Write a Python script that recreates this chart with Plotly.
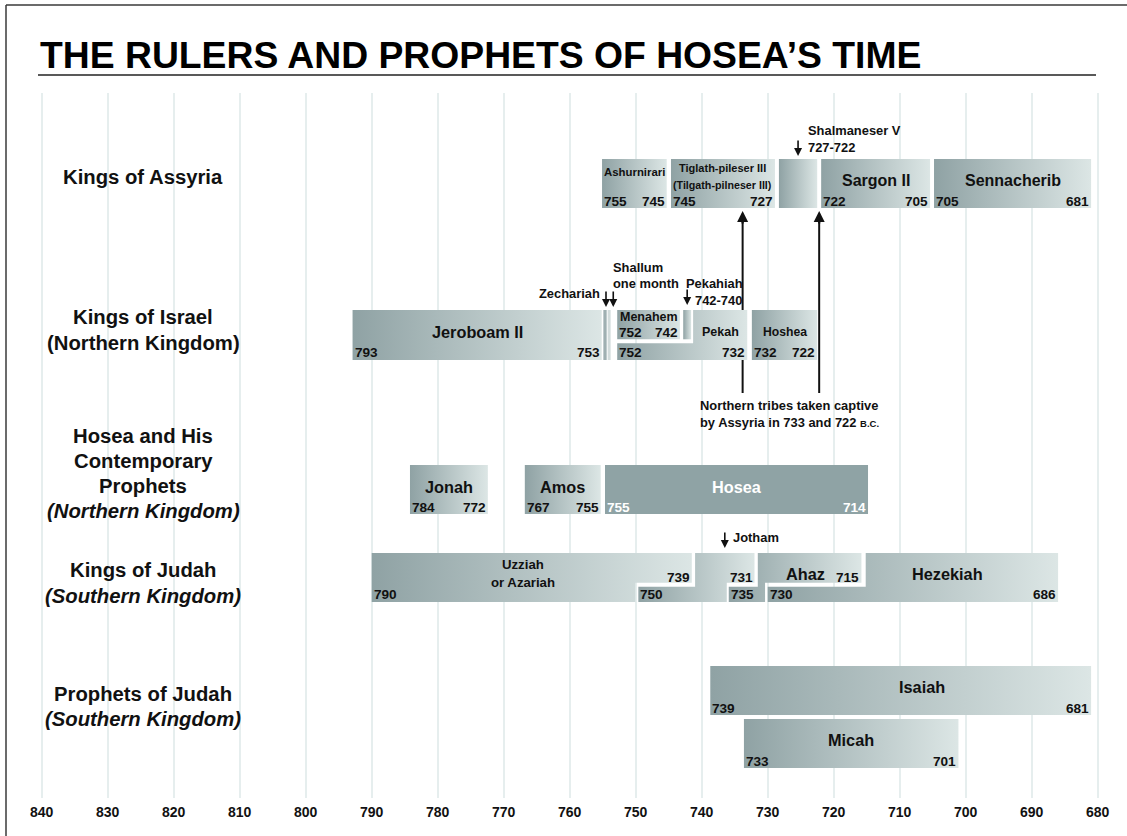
import plotly.graph_objects as go

# ---------------- data (years B.C.) ----------------
tick_years = [840, 830, 820, 810, 800, 790, 780, 770, 760, 750, 740, 730, 720, 710, 700, 690, 680]

assyria_kings = ["Ashurnirari", "Tiglath-pileser III", "Shalmaneser V", "Sargon II", "Sennacherib"]
assyria_start = [755.1, 744.65, 728.3, 721.9, 704.8]
assyria_end = [745.3, 728.9, 722.5, 705.4, 681.0]
assyria_from = ["755", "745", "", "722", "705"]
assyria_to = ["745", "727", "", "705", "681"]

israel_kings = ["Jeroboam II", "Zechariah", "Shallum", "Menahem", "Pekahiah", "Pekah", "Hoshea"]
israel_top_start = [792.9, 754.9, 754.25, 752.8, 742.8, 741.3, 732.4]
israel_top_end = [755.15, 754.4, 753.8, 743.3, 741.6, 733.1, 722.5]
israel_bottom_start = [792.9, 754.9, 754.25, None, None, 752.8, 732.4]
israel_bottom_end = [755.15, 754.4, 753.8, None, None, 733.1, 722.5]
israel_from = ["793", "", "", "752", "", "752", "732"]
israel_to = ["753", "", "", "742", "", "732", "722"]

north_prophets = ["Jonah", "Amos", "Hosea"]
north_prophet_start = [784.2, 766.8, 754.65]
north_prophet_end = [772.4, 755.3, 714.8]
north_prophet_from = ["784", "767", "755"]
north_prophet_to = ["772", "755", "714"]

judah_kings = ["Uzziah", "Jotham", "Ahaz", "Hezekiah"]
judah_top_start = [790.0, 741.0, 731.5, 715.15]
judah_top_end = [741.5, 732.0, 715.8, 686.0]
judah_bottom_start = [790.0, 749.6, 735.9, 730.0]
judah_bottom_end = [750.05, 736.2, 730.4, 686.0]
judah_from = ["790", "750", "735", "730"]
judah_to = ["739", "731", "715", "686"]

south_prophets = ["Isaiah", "Micah"]
south_prophet_start = [738.7, 733.6]
south_prophet_end = [681.0, 701.1]
south_prophet_from = ["739", "733"]
south_prophet_to = ["681", "701"]

captivity_years = [733.8, 722.2]

pointer_names = ["Shalmaneser V", "Zechariah", "Shallum", "Pekahiah", "Jotham"]
pointer_years = [725.4, 754.5, 753.4, 742.2, 736.5]
pointer_notes = ["727-722", "", "one month", "742-740", ""]

# ---------------- styling / layout ----------------
W, H = 1127, 836
PX0, PXY = 41.7, 6.6            # pixel of 840 B.C., pixels per year
X_LEFT = 840 + PX0 / PXY
X_RIGHT = X_LEFT - W / PXY
PLOT_TOP, PLOT_BOT = 93, 798

INK = "#111111"
DARK = "#8fa2a4"
LIGHT = "#dce6e5"
GRID = "#e6eeee"
BOLD = "Liberation Sans, Arial, Helvetica, sans-serif"
SMALL = BOLD
YR = 13.6

ROW_ASSYRIA = (159, 208)
ROW_ISRAEL = (310, 360, 341.3)
ROW_NPROPH = (465, 514)
ROW_JUDAH = (553, 602, 584.7)
ROW_ISAIAH = (666, 715)
ROW_MICAH = (719, 768)

fig = go.Figure()
ann = []
shapes = []


def px_x(p):
    return p / W


def py(p):
    return (PLOT_BOT - p) / (PLOT_BOT - PLOT_TOP)


def poly(ts, te, bs, be, y0, y1, ym=None, g=2.0):
    if bs is None:
        return [ts, te, te, ts, ts], [y0, y0, ym - g, ym - g, y0]
    xs, ys = [ts, te], [y0, y0]
    if abs(te - be) < 1e-9:
        xs += [be]; ys += [y1]
    elif te < be:
        xs += [te, be, be]; ys += [ym - g, ym - g, y1]
    else:
        xs += [te, be, be]; ys += [ym + g, ym + g, y1]
    xs += [bs]; ys += [y1]
    if abs(ts - bs) < 1e-9:
        xs += [ts]; ys += [y0]
    elif ts > bs:
        xs += [bs, ts, ts]; ys += [ym - g, ym - g, y0]
    else:
        xs += [bs, ts, ts]; ys += [ym + g, ym + g, y0]
    return xs, ys


def add_bar(xs, ys, solid=None):
    kw = dict(x=xs, y=ys, mode="lines", fill="toself",
              line=dict(width=0, color="rgba(0,0,0,0)"),
              hoverinfo="skip", showlegend=False)
    if solid:
        kw["fillcolor"] = solid
    else:
        kw["fillgradient"] = dict(type="horizontal",
                                  colorscale=[[0, DARK], [1, LIGHT]],
                                  start=max(xs), stop=min(xs))
    fig.add_trace(go.Scatter(**kw))


def T(x, y, s, size=YR, fam=SMALL, anchor="center", color=INK, xshift=0, xref="x"):
    ann.append(dict(x=x, y=y, xref=xref, yref="y", text=s, showarrow=False,
                    xanchor=anchor, yanchor="middle", xshift=xshift,
                    font=dict(family=fam, size=size, color=color, weight="bold")))


def years(x_from, x_to, s_from, s_to, y, color=INK):
    if s_from:
        T(x_from, y, s_from, anchor="left", xshift=0, color=color)
    if s_to:
        T(x_to, y, s_to, anchor="right", xshift=0, color=color)


def down_arrow(x, tip):
    ann.append(dict(x=x, y=tip, xref="x", yref="y", text="", showarrow=True,
                    ax=0, ay=-17, arrowhead=2, arrowsize=1, arrowwidth=1.6,
                    arrowcolor=INK, standoff=0))


# captivity lines (behind the bars)
for cy in captivity_years:
    fig.add_trace(go.Scatter(x=[cy, cy], y=[393, 218], mode="lines",
                             line=dict(color=INK, width=2), hoverinfo="skip", showlegend=False))
    ann.append(dict(x=cy, y=211, xref="x", yref="y", text="", showarrow=True,
                    ax=0, ay=14, arrowhead=2, arrowsize=1, arrowwidth=2.2,
                    arrowcolor=INK, standoff=0))

# ---- Kings of Assyria ----
y0, y1 = ROW_ASSYRIA
for i, name in enumerate(assyria_kings):
    xs, ys = poly(assyria_start[i], assyria_end[i], assyria_start[i], assyria_end[i], y0, y1)
    add_bar(xs, ys)
    years(assyria_start[i], assyria_end[i], assyria_from[i], assyria_to[i], 201)
cx = lambda i: (assyria_start[i] + assyria_end[i]) / 2
T(cx(0), 172, assyria_kings[0], size=11.4)
T(cx(1), 168, assyria_kings[1], size=11)
T(cx(1), 185, "(Tilgath-pilneser III)", size=10.7)
T(cx(3), 180, assyria_kings[3], size=16, fam=BOLD)
T(cx(4), 180, assyria_kings[4], size=16, fam=BOLD)

# ---- Kings of Israel ----
y0, y1, ym = ROW_ISRAEL
for i, name in enumerate(israel_kings):
    xs, ys = poly(israel_top_start[i], israel_top_end[i], israel_bottom_start[i],
                  israel_bottom_end[i], y0, y1, ym)
    if name == "Zechariah":
        add_bar(xs, ys, solid="#9fb0b2")
    elif name == "Shallum":
        add_bar(xs, ys, solid="#d2dcdc")
    else:
        add_bar(xs, ys)
T((israel_top_start[0] + israel_top_end[0]) / 2, 332, "Jeroboam II", size=16.3, fam=BOLD)
years(israel_bottom_start[0], israel_bottom_end[0], israel_from[0], israel_to[0], 352)
T((israel_top_start[3] + israel_top_end[3]) / 2, 317, "Menahem", size=12.5)
years(israel_top_start[3], israel_top_end[3], israel_from[3], israel_to[3], 332)
T((israel_top_start[5] + israel_top_end[5]) / 2, 332, "Pekah", size=12.5)
years(israel_bottom_start[5], israel_bottom_end[5], israel_from[5], israel_to[5], 352)
T((israel_top_start[6] + israel_top_end[6]) / 2, 332, "Hoshea", size=12.2)
years(israel_bottom_start[6], israel_bottom_end[6], israel_from[6], israel_to[6], 352)

# ---- Hosea and contemporary prophets ----
y0, y1 = ROW_NPROPH
for i, name in enumerate(north_prophets):
    xs, ys = poly(north_prophet_start[i], north_prophet_end[i],
                  north_prophet_start[i], north_prophet_end[i], y0, y1)
    col = "white" if name == "Hosea" else INK
    add_bar(xs, ys, solid="#8fa3a5" if name == "Hosea" else None)
    T((north_prophet_start[i] + north_prophet_end[i]) / 2, 487, name, size=16.3, fam=BOLD, color=col)
    years(north_prophet_start[i], north_prophet_end[i], north_prophet_from[i],
          north_prophet_to[i], 507, color=col)

# ---- Kings of Judah ----
y0, y1, ym = ROW_JUDAH
for i, name in enumerate(judah_kings):
    xs, ys = poly(judah_top_start[i], judah_top_end[i], judah_bottom_start[i],
                  judah_bottom_end[i], y0, y1, ym)
    add_bar(xs, ys)
    T(judah_bottom_start[i], 594, judah_from[i], anchor="left")
    if name == "Hezekiah":
        T(judah_bottom_end[i], 594, judah_to[i], anchor="right")
    else:
        T(judah_top_end[i], 577, judah_to[i], anchor="right")
T(767.1, 564, "Uzziah", size=13.2)
T(767.1, 582, "or Azariah", size=13.2)
T(724.3, 574, "Ahaz", size=16.3, fam=BOLD)
T(702.7, 574, "Hezekiah", size=16.3, fam=BOLD)

# ---- Prophets of Judah ----
for i, (name, row) in enumerate(zip(south_prophets, [ROW_ISAIAH, ROW_MICAH])):
    y0, y1 = row
    xs, ys = poly(south_prophet_start[i], south_prophet_end[i],
                  south_prophet_start[i], south_prophet_end[i], y0, y1)
    add_bar(xs, ys)
    cxp = 706.6 if name == "Isaiah" else (south_prophet_start[i] + south_prophet_end[i]) / 2
    T(cxp, y0 + 21, name, size=16.3, fam=BOLD)
    years(south_prophet_start[i], south_prophet_end[i], south_prophet_from[i],
          south_prophet_to[i], y1 - 6.5)

# ---- pointers ----
PT = 12.9
down_arrow(pointer_years[0], 156)
T(724.2, 130, pointer_names[0], size=PT, anchor="left")
T(724.2, 147, pointer_notes[0], size=PT, anchor="left")
down_arrow(pointer_years[1], 307)
T(755.1, 293, pointer_names[1], size=PT, anchor="right")
down_arrow(pointer_years[2], 307)
T(753.74, 267, pointer_names[2], size=PT, anchor="left")
T(753.74, 283, pointer_notes[2], size=PT, anchor="left")
down_arrow(pointer_years[3], 305)
T(742.7, 283, pointer_names[3], size=PT, anchor="left")
T(741.3, 300, pointer_notes[3], size=PT, anchor="left")
down_arrow(pointer_years[4], 548)
T(735.56, 537, pointer_names[4], size=PT, anchor="left")

# captivity note
T(740.56, 405, "Northern tribes taken captive", size=12.9, anchor="left")
T(740.56, 422, "by Assyria in 733 and 722 <span style='font-size:9.5px'>B.C.</span>",
  size=12.9, anchor="left")

# ---- row labels ----
LX = px_x(143)
row_labels = [
    (177, "Kings of Assyria", False),
    (317, "Kings of Israel", False),
    (343, "(Northern Kingdom)", False),
    (436, "Hosea and His", False),
    (461, "Contemporary", False),
    (486, "Prophets", False),
    (511, "(Northern Kingdom)", True),
    (570, "Kings of Judah", False),
    (596, "(Southern Kingdom)", True),
    (694, "Prophets of Judah", False),
    (719, "(Southern Kingdom)", True),
]
for yy, s, it in row_labels:
    T(LX, yy, f"<i>{s}</i>" if it else s, size=20.3, fam=BOLD, xref="paper")

# ---- title, frame ----
ann.append(dict(x=px_x(38), y=py(55), xref="paper", yref="paper",
                text="THE RULERS AND PROPHETS OF HOSEA\u2019S TIME", showarrow=False,
                xanchor="left", yanchor="middle",
                font=dict(family=BOLD, size=37.3, color="#000", weight="bold")))
shapes.append(dict(type="line", xref="paper", yref="paper", x0=px_x(38), x1=px_x(1096),
                   y0=py(75), y1=py(75), line=dict(color="#222", width=1.6)))
shapes.append(dict(type="line", xref="paper", yref="paper", x0=px_x(6), x1=px_x(1127),
                   y0=py(5), y1=py(5), line=dict(color="#3a3a3a", width=1.5)))
shapes.append(dict(type="line", xref="paper", yref="paper", x0=px_x(6), x1=px_x(6),
                   y0=py(5), y1=py(836), line=dict(color="#3a3a3a", width=1.5)))

fig.update_layout(
    width=W, height=H,
    margin=dict(l=0, r=0, t=PLOT_TOP, b=H - PLOT_BOT),
    paper_bgcolor="white", plot_bgcolor="white", showlegend=False,
    annotations=ann, shapes=shapes,
    xaxis=dict(range=[X_LEFT, X_RIGHT], tickvals=tick_years,
               ticktext=[str(t) for t in tick_years], showgrid=True, gridcolor=GRID,
               gridwidth=2, zeroline=False, showline=False, ticks="",
               tickfont=dict(family=BOLD, size=14, color=INK, weight="bold"),
               ticklabelstandoff=4, fixedrange=True),
    yaxis=dict(range=[PLOT_BOT, PLOT_TOP], visible=False, fixedrange=True),
)

fig.write_html("out.html",
               config={"displayModeBar": False, "staticPlot": True},
               post_script="document.body.style.margin='0';document.body.style.overflow='hidden';")
